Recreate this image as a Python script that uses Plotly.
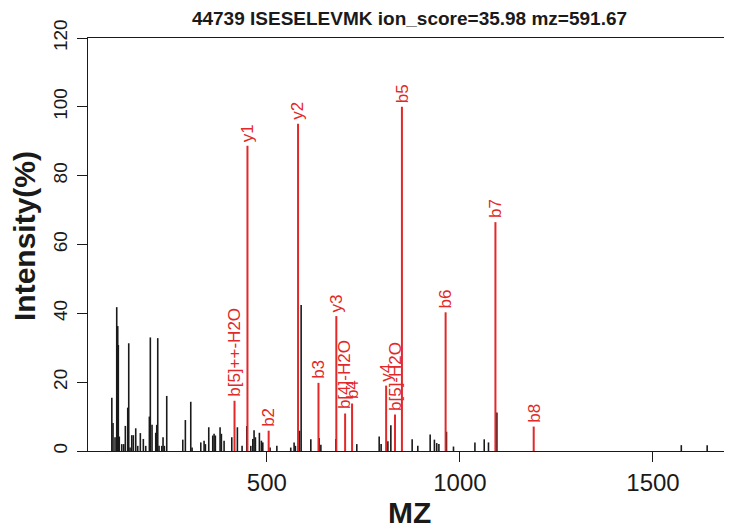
import plotly.graph_objects as go

# ---- data ----
title_text = "44739 ISESELEVMK ion_score=35.98 mz=591.67"

# unmatched (black) peaks
black_mz = [98.7, 101.8, 107.0, 111.4, 114.0, 115.5, 118.0, 124.4, 129.5, 133.7,
            139.9, 142.5, 145.9, 150.3, 154.4, 160.6, 165.8, 172.5, 180.3, 186.5,
            195.9, 198.4, 202.8, 212.4, 215.0, 217.6, 221.0, 228.0, 231.3, 234.7,
            240.9, 282.4, 289.1, 303.1, 306.5, 329.0, 337.6, 341.0, 349.7, 360.0,
            363.5, 366.8, 379.0, 382.4, 389.4, 409.3, 423.8, 436.0, 448.2, 458.5,
            463.7, 467.0, 470.5, 480.8, 486.0, 489.6, 508.5, 526.0, 562.0, 570.7,
            574.0, 584.5, 588.9, 614.0, 635.5, 640.0, 678.8, 733.0, 791.0, 796.0,
            813.5, 821.2, 876.4, 891.0, 923.0, 934.0, 940.0, 945.6, 965.3, 983.4,
            1038.9, 1063.0, 1074.0, 1095.8, 1573.3, 1640.3]
black_int = [15.5, 8.1, 4.0, 41.8, 36.3, 30.8, 4.2, 2.0, 2.0, 7.3,
             12.6, 31.3, 1.0, 4.6, 4.6, 6.6, 1.5, 5.2, 3.5, 1.5,
             10.0, 33.0, 7.6, 5.3, 7.6, 32.8, 1.5, 1.5, 4.0, 1.5,
             16.0, 3.3, 9.0, 14.3, 1.0, 2.5, 3.0, 2.0, 6.9, 4.5,
             5.0, 4.5, 6.9, 5.0, 3.0, 4.0, 6.9, 1.5, 7.3, 1.5,
             3.5, 6.0, 4.0, 5.3, 3.0, 2.5, 1.0, 1.5, 1.0, 2.5,
             1.5, 5.9, 42.4, 3.4, 3.8, 1.8, 3.5, 2.0, 4.2, 2.0,
             2.8, 7.5, 3.4, 1.5, 4.8, 3.3, 2.3, 2.0, 5.6, 1.3,
             2.5, 3.4, 2.5, 11.2, 1.7, 1.7]

# matched (red) fragment ions
ion_mz = [416.4, 449.9, 504.8, 580.9, 633.8, 680.0, 702.8, 720.8, 809.0, 831.9,
          849.9, 963.0, 1092.0, 1191.1]
ion_int = [14.6, 88.7, 5.9, 95.1, 19.8, 39.2, 10.9, 13.8, 19.0, 10.6,
           100.0, 40.3, 66.5, 7.1]
ion_label = ["b[5]++-H2O", "y1", "b2", "y2", "b3", "y3", "b[4]-H2O", "b4", "y4",
             "b[5]-H2O", "b5", "b6", "b7", "b8"]

x_ticks = [500, 1000, 1500]
y_ticks = [0, 20, 40, 60, 80, 100, 120]

# ---- build figure ----
RED = "rgb(226,40,40)"
INK = "#1a1a1a"
FONT = "Liberation Sans, Arial, Helvetica, sans-serif"


def sticks(xs, ys):
    px, py = [], []
    for a, b in zip(xs, ys):
        px += [a, a, None]
        py += [0, b, None]
    return px, py


fig = go.Figure()
bx, by = sticks(black_mz, black_int)
fig.add_trace(go.Scatter(x=bx, y=by, mode="lines",
                         line=dict(color=INK, width=1.6),
                         hoverinfo="skip", showlegend=False))
rx, ry = sticks(ion_mz, ion_int)
fig.add_trace(go.Scatter(x=rx, y=ry, mode="lines",
                         line=dict(color=RED, width=2),
                         hoverinfo="skip", showlegend=False))

for m, v, lab in zip(ion_mz, ion_int, ion_label):
    fig.add_annotation(x=m, y=v, text=lab, textangle=-90, showarrow=False,
                       xanchor="center", yanchor="bottom", yshift=2,
                       font=dict(family=FONT, size=17, color=RED))

# the page body adds an 8px offset, so the figure is 8px smaller than the window
W, H = 724, 521
L, R, T, B = 80, 1, 30, 78
ph = H - T - B
pw = W - L - R

fig.add_annotation(text="<b>MZ</b>", xref="paper", yref="paper", x=0.5,
                   y=-(504 - (H - B)) / ph, xanchor="center", yanchor="middle",
                   showarrow=False, font=dict(family=FONT, size=30, color=INK))
fig.add_annotation(text="<b>Intensity(%)</b>", xref="paper", yref="paper",
                   x=-(L - 16) / pw, y=(H - B - 228) / ph, textangle=-90,
                   xanchor="center", yanchor="middle", showarrow=False,
                   font=dict(family=FONT, size=30, color=INK))

fig.update_layout(
    width=W, height=H,
    margin=dict(l=L, r=R, t=T, b=B, pad=0),
    paper_bgcolor="white", plot_bgcolor="white",
    title=dict(text="<b>" + title_text + "</b>", x=(L + pw / 2) / W, xanchor="center",
               y=1 - 10 / H, yanchor="middle", yref="container",
               font=dict(family=FONT, size=19, color=INK)),
    xaxis=dict(range=[37, 1702], tickvals=x_ticks, ticktext=[str(t) for t in x_ticks],
               showgrid=False, zeroline=False, showline=True, mirror=True,
               linecolor=INK, linewidth=1.2, ticks="outside", ticklen=10,
               tickcolor=INK, tickwidth=1.2, ticklabelstandoff=0,
               tickfont=dict(family=FONT, size=24, color=INK)),
    yaxis=dict(range=[0, 120], tickvals=y_ticks, ticktext=[str(t) for t in y_ticks],
               showgrid=False, zeroline=False, showline=True, mirror=True,
               linecolor=INK, linewidth=1.2, ticks="outside", ticklen=10,
               tickcolor=INK, tickwidth=1.2, tickangle=-90, ticklabelstandoff=2,
               tickfont=dict(family=FONT, size=19, color=INK)),
)

fig.write_html("out.html")
